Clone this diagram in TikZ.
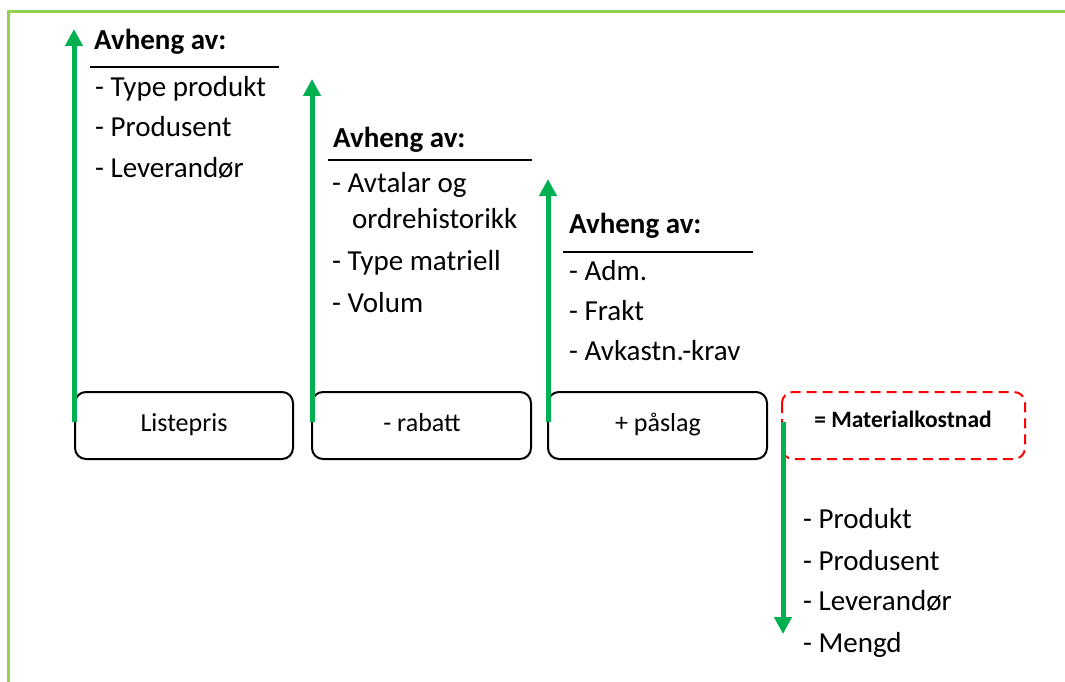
\documentclass[tikz,border=0pt]{standalone}
\usepackage{fontspec}
\setmainfont{Carlito}
\usetikzlibrary{arrows.meta}
\definecolor{officegreen}{RGB}{0,176,80}
\definecolor{framegreen}{RGB}{146,208,80}
\definecolor{dashred}{RGB}{255,0,0}
\tikzset{
  item/.style={anchor=base west, inner sep=0pt, font=\fontsize{29}{35}\selectfont},
  head/.style={anchor=base west, inner sep=0pt, font=\fontsize{29}{35}\selectfont\bfseries},
  boxtext/.style={anchor=base, inner sep=0pt, font=\fontsize{26}{30}\selectfont},
  stagebox/.style={draw=black, line width=2pt, rounded corners=11pt},
  resultbox/.style={draw=dashred, line width=2pt, rounded corners=11pt, dash pattern=on 10pt off 6pt},
  greenarrow/.style={draw=officegreen, line width=5pt, -{Triangle[width=17pt,length=17pt]}},
  rule/.style={draw=black, line width=2pt},
}
\begin{document}
\begin{tikzpicture}[x=1pt,y=-1pt]
\useasboundingbox (0,0) rectangle (1065,682);
\fill[white] (0,0) rectangle (1065,682);
% frame
\draw[framegreen, line width=2.5pt] (8.5,690) -- (8.5,11.5) -- (1070,11.5);

% boxes
\draw[stagebox] (75,392) rectangle (293,459);
\node[boxtext] (b1) at (184,431) {Listepris};
\draw[stagebox] (312,392) rectangle (531,459);
\node[boxtext] (b2) at (422,431) {- rabatt};
\draw[stagebox] (548,392) rectangle (767,459);
\node[boxtext] (b3) at (658,431) {+ påslag};
\draw[resultbox] (782,392) rectangle (1025,459);
\node[anchor=base, inner sep=0pt, font=\fontsize{23.5}{28}\selectfont\bfseries] (b4) at (903,427) {= Materialkostnad};

% arrow coordinates
\coordinate (a1s) at (74,422);
\coordinate (a1e) at (74,29);
\coordinate (a2s) at (312,422);
\coordinate (a2e) at (312,79);
\coordinate (a3s) at (548,422);
\coordinate (a3e) at (548,179);
\coordinate (a4s) at (783,422);
\coordinate (a4e) at (783,634);
\draw[greenarrow] (a1s) -- (a1e);
\draw[greenarrow] (a2s) -- (a2e);
\draw[greenarrow] (a3s) -- (a3e);
\draw[greenarrow] (a4s) -- (a4e);

% panel 1
\node[head] (h1) at (94,50) {Avheng av:};
\coordinate (r1a) at (90,67);
\coordinate (r1b) at (279,67);
\draw[rule] (r1a) -- (r1b);
\node[item] (p11) at (95,97) {- Type produkt};
\node[item] (p12) at (95,137) {- Produsent};
\node[item] (p13) at (95,177) {- Leverandør};

% panel 2
\node[head] (h2) at (333,147) {Avheng av:};
\coordinate (r2a) at (328,160);
\coordinate (r2b) at (532,160);
\draw[rule] (r2a) -- (r2b);
\node[item] (p21) at (332,192) {- Avtalar og};
\node[item] (p22) at (352,228) {ordrehistorikk};
\node[item] (p23) at (332,270) {- Type matriell};
\node[item] (p24) at (332,312) {- Volum};

% panel 3
\node[head] (h3) at (569,233) {Avheng av:};
\coordinate (r3a) at (563,252);
\coordinate (r3b) at (753,252);
\draw[rule] (r3a) -- (r3b);
\node[item] (p31) at (569,280) {- Adm.};
\node[item] (p32) at (569,320) {- Frakt};
\node[item] (p33) at (569,360) {- Avkastn.-krav};

% panel 4
\node[item] (p41) at (803,528) {- Produkt};
\node[item] (p42) at (803,570) {- Produsent};
\node[item] (p43) at (803,610) {- Leverandør};
\node[item] (p44) at (803,652) {- Mengd};
\end{tikzpicture}
\end{document}
